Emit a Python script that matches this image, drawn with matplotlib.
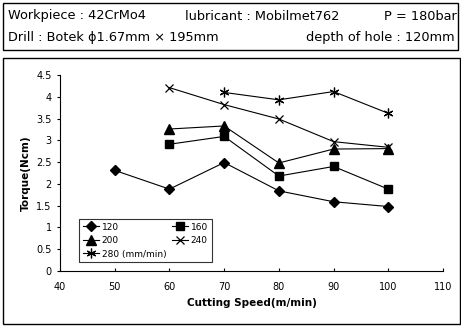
import matplotlib.pyplot as plt
from matplotlib.patches import Rectangle

# Torque vs cutting speed for several feed rates
speed = [50, 60, 70, 80, 90, 100]
speed_160 = [60, 70, 80, 90, 100]
speed_280 = [70, 80, 90, 100]

torque_120 = [2.31, 1.88, 2.49, 1.84, 1.59, 1.48]
torque_160 = [2.91, 3.09, 2.18, 2.40, 1.88]
torque_200 = [3.26, 3.33, 2.48, 2.80, 2.81]
torque_240 = [4.21, 3.82, 3.49, 2.97, 2.84]
torque_280 = [4.10, 3.93, 4.12, 3.62]

x_ticks = [40, 50, 60, 70, 80, 90, 100, 110]
y_ticks = [0, 0.5, 1, 1.5, 2, 2.5, 3, 3.5, 4, 4.5]

W, H = 461, 326
fig = plt.figure(figsize=(W / 100, H / 100), dpi=100)
ax = fig.add_axes([60 / W, 1 - 271 / H, (443 - 60) / W, (271 - 75) / H])

lw = 0.8
h120, = ax.plot(speed, torque_120, color='black', lw=lw, marker='D', ms=5.5, label='120')
h160, = ax.plot(speed_160, torque_160, color='black', lw=lw, marker='s', ms=6, label='160')
h200, = ax.plot(speed_160, torque_200, color='black', lw=lw, marker='^', ms=7, label='200')
h240, = ax.plot(speed_160, torque_240, color='black', lw=lw, marker='x', ms=6, mew=0.9, label='240')
h280, = ax.plot(speed_280, torque_280, color='black', lw=lw, marker=(6, 2, 0), ms=7, mew=0.9,
                label='280 (mm/min)')

ax.set_xlim(40, 110)
ax.set_ylim(0, 4.5)
ax.set_xticks(x_ticks)
ax.set_yticks(y_ticks)
ax.set_yticklabels(['0', '0.5', '1', '1.5', '2', '2.5', '3', '3.5', '4', '4.5'])
ax.tick_params(labelsize=7, length=2.5, width=0.8)
ax.tick_params(axis='x', direction='in', pad=8)
ax.spines['top'].set_visible(False)
ax.spines['right'].set_visible(False)
ax.set_xlabel('Cutting Speed(m/min)', fontsize=7.5, fontweight='bold', labelpad=4)
ax.set_ylabel('Torque(Ncm)', fontsize=7.5, fontweight='bold', labelpad=4)

leg = ax.legend(handles=[h120, h200, h280, h160, h240], ncol=2, loc='lower left',
                bbox_to_anchor=(0.05, 0.045), fontsize=6.5, frameon=True, fancybox=False,
                edgecolor='black', handlelength=1.8, columnspacing=0.6, handletextpad=0.3,
                labelspacing=0.5, borderpad=0.4, borderaxespad=0)
leg.get_frame().set_linewidth(0.8)

# header box with test conditions
fig.add_artist(Rectangle((3 / W, 1 - 50 / H), 455 / W, 47 / H, transform=fig.transFigure,
                         fill=False, lw=1.0, color='black'))
fig.add_artist(Rectangle((3 / W, 1 - 324 / H), 457 / W, 266 / H, transform=fig.transFigure,
                         fill=False, lw=1.0, color='black'))

fs = 9.3
fig.text(8 / W, 1 - 16 / H, 'Workpiece : 42CrMo4', fontsize=fs, va='center')
fig.text(185 / W, 1 - 16 / H, 'lubricant : Mobilmet762', fontsize=fs, va='center')
fig.text(457 / W, 1 - 16 / H, 'P = 180bar', fontsize=fs, va='center', ha='right')
fig.text(8 / W, 1 - 38 / H, 'Drill : Botek \u03d51.67mm \u00d7 195mm', fontsize=fs, va='center')
fig.text(455 / W, 1 - 38 / H, 'depth of hole : 120mm', fontsize=fs, va='center', ha='right')

fig.savefig('out.png', dpi=100)
